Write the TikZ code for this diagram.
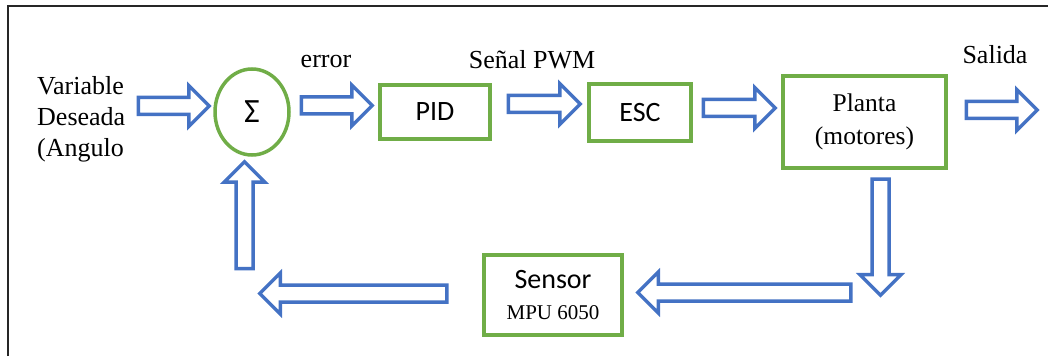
\documentclass[tikz,border=0pt]{standalone}
\usepackage{fontspec}
\setmainfont{Liberation Serif}
\newfontfamily\calibri{Carlito}
\usetikzlibrary{shapes.geometric,shapes.arrows}

\definecolor{arrowblue}{HTML}{4472C4}
\definecolor{boxgreen}{HTML}{70AD47}

\begin{document}
\begin{tikzpicture}[x=1pt, y=1pt,
  block/.style={draw=boxgreen, line width=3.5pt, inner sep=0pt, align=center},
  barrow/.style={single arrow, draw=arrowblue, line width=3.5pt, fill=white,
    inner sep=0pt, inner ysep=6.75pt, single arrow head extend=12pt,
    single arrow tip angle=90},
  lbl/.style={inner sep=0pt, font=\fontsize{26}{31}\selectfont},
  every node/.style={font=\fontsize{26}{31}\selectfont}]
  \useasboundingbox (0,0) rectangle (1048,356);

  % Frame
  \draw[line width=2pt, black!85] (8,0) -- (8,350) -- (1048,350);

  % Blocks
  \node[block, ellipse, minimum width=74pt, minimum height=86pt,
    font=\calibri\fontsize{34}{36}\selectfont] (sum) at (252,244) {\raisebox{-6pt}{Σ}};
  \node[block, minimum width=110pt, minimum height=54pt,
    font=\calibri\fontsize{28}{30}\selectfont] (pid) at (435,244) {\raisebox{-3pt}{PID}};
  \node[block, minimum width=102pt, minimum height=57pt,
    font=\calibri\fontsize{28}{30}\selectfont] (esc) at (640,243.5) {ESC};
  \node[block, minimum width=163pt, minimum height=92pt,
    font=\fontsize{25.5}{33}\selectfont] (planta) at (864.5,234) {Planta\\(motores)};
  \node[block, minimum width=138pt, minimum height=80pt,
    font=\fontsize{21}{31}\selectfont] (sensor) at (553,61)
    {{\calibri\fontsize{28}{31}\selectfont Sensor}\\MPU 6050};

  % Block arrows
  \foreach \name/\x/\y/\len/\ang in {ain/169.5/250/75/0, aerr/332.5/250.5/75/0,
      apwm/540/252/76/0, aesc/735/248/76/0, aout/997.5/246/75/0,
      adown/880.5/123/120/-90, asens/748.5/63.5/217/180,
      aback/357.5/62.5/191/180, aup/244.5/136.5/111/90}
    \node[barrow, minimum height=\len pt-4pt, rotate=\ang] (\name) at (\x,\y) {};

  % Labels
  \node[lbl, anchor=north west, align=left] (ref) at (37,280) {Variable\\Deseada\\(Angulo};
  \node[lbl] (err) at (326,294) {error};
  \node[lbl] (pwm) at (532,296) {Señal PWM};
  \node[lbl] (out) at (995,301) {Salida};
\end{tikzpicture}
\end{document}
